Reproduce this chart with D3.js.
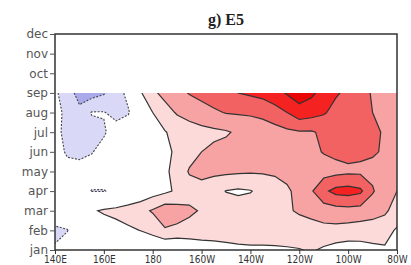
<!DOCTYPE html>
<html>
<head>
<meta charset="utf-8">
<script src="https://cdn.jsdelivr.net/npm/d3@7"></script>
<style>
  body { margin: 0; background: #fff; }
  svg { display: block; }
  .ylab text { font-family: 'DejaVu Sans', sans-serif; font-size: 12px; fill: #555; }
  .xlab text { font-family: 'Liberation Sans Narrow', 'DejaVu Sans Condensed', sans-serif; font-size: 10px; fill: #333; }
</style>
</head>
<body>
<div id="root"></div>
<script>
const monthNames = ['jan', 'feb', 'mar', 'apr', 'may', 'jun', 'jul', 'aug', 'sep', 'oct', 'nov', 'dec'];
const lonTicks = [140, 160, 180, 200, 220, 240, 260, 280];
const lonLabels = ['140E', '160E', '180', '160W', '140W', '120W', '100W', '80W'];

// grid longitudes (degrees east), 140E .. 80W every 5 deg
const gridLons = [140, 145, 150, 155, 160, 165, 170, 175, 180, 185, 190, 195, 200, 205, 210,
  215, 220, 225, 230, 235, 240, 245, 250, 255, 260, 265, 270, 275, 280];
// rows top to bottom: sep .. jan
const gridMonths = [9, 8, 7, 6, 5, 4, 3, 2, 1];

const sep = [-0.8, -1.6, -2.3, -2.4, -2.1, -1.5, -0.7, 0.9, 1.8, 2.3, 2.7, 3.05, 3.3, 3.5, 3.7,
  4.0, 4.15, 4.3, 4.6, 5.1, 5.5, 5.2, 4.6, 4.1, 3.8, 3.4, 2.9, 2.6, 2.7];
const aug = [-0.6, -1.3, -1.8, -0.95, -0.95, -1.3, -1.1, -0.1, 1.0, 1.6, 2.1, 2.4, 2.6, 2.85, 3.05,
  3.1, 3.15, 3.3, 3.6, 4.0, 4.6, 4.4, 4.1, 3.7, 3.4, 3.3, 3.0, 2.7, 2.5];
const jul = [-0.7, -1.3, -1.4, -1.3, -1.1, -0.6, -0.2, 0.2, 0.6, 0.95, 1.3, 1.5, 1.7, 1.8, 1.9,
  2.15, 2.3, 2.4, 2.6, 2.8, 2.9, 2.9, 3.2, 3.4, 3.5, 3.4, 3.2, 2.9, 2.6];
const jun = [-0.5, -1.15, -1.2, -1.05, -0.7, -0.3, 0.0, 0.3, 0.6, 0.8, 1.15, 1.6, 2.0, 2.2, 2.3,
  2.4, 2.4, 2.5, 2.55, 2.6, 2.7, 2.8, 3.05, 3.2, 3.3, 3.2, 3.1, 2.9, 2.5];
const may = [-0.3, -0.6, -0.7, -0.6, -0.4, -0.2, 0.0, 0.3, 0.6, 0.85, 1.3, 2.1, 2.3, 2.2, 2.2,
  2.15, 2.1, 2.1, 2.1, 2.1, 2.2, 2.4, 2.6, 2.7, 2.8, 2.8, 2.75, 2.5, 2.3];
const apr = [-0.1, -0.4, -0.75, -1.03, -1.05, -0.7, -0.2, 0.2, 0.55, 0.8, 1.15, 1.5, 1.6, 1.4, 0.97,
  0.85, 0.95, 1.3, 1.7, 1.95, 2.1, 2.9, 3.8, 4.3, 4.4, 4.2, 3.1, 2.4, 2.0];
const mar = [-0.3, -0.1, 0.3, 0.85, 1.15, 1.3, 1.5, 1.7, 2.1, 2.6, 2.4, 2.2, 1.9, 1.6, 1.5,
  1.5, 1.5, 1.6, 1.7, 1.9, 2.1, 2.3, 2.5, 2.6, 2.65, 2.6, 2.4, 2.2, 1.5];
const feb = [-1.2, -1.05, -0.2, 0.1, 0.3, 0.6, 0.82, 1.02, 1.3, 1.9, 1.8, 1.6, 1.5, 1.4, 1.4,
  1.35, 1.3, 1.3, 1.35, 1.4, 1.6, 1.6, 1.7, 1.7, 1.6, 1.5, 1.5, 1.3, 0.9];
const jan = [-0.9, -0.4, -0.2, 0.0, 0.1, 0.2, 0.3, 0.0, 0.1, -0.1, -0.2, 0.2, 0.5, 0.65, 0.75,
  0.85, 0.9, 0.9, 0.9, 0.92, 0.95, 1.1, 0.85, 0.6, 0.5, 0.6, 0.75, 0.9, 0.95];

const posLevels = [1, 2, 3, 4, 5];
const posColors = ['#fcdada', '#f7a3a3', '#f36262', '#f52222', '#e80606'];
const negLevels = [1, 2];
const negColors = ['#d9d9f7', '#a9a9ec'];

const width = 411;
const height = 265;
const margin = { top: 34, right: 14, bottom: 15, left: 55 };

const svg = d3.select('#root').append('svg')
  .attr('width', width)
  .attr('height', height);

const xScale = d3.scaleLinear()
  .domain([140, 280])
  .range([margin.left, width - margin.right]);

const yScale = d3.scaleLinear()
  .domain([1, 12])
  .range([height - margin.bottom, margin.top]);

svg.append('text')
  .attr('x', (xScale(140) + xScale(280)) / 2)
  .attr('y', 25)
  .attr('text-anchor', 'middle')
  .style('font-family', "'Liberation Serif', serif")
  .style('font-weight', 'bold')
  .style('font-size', '16px')
  .style('fill', '#222')
  .text('g) E5');

// contour grid
const rows = [sep, aug, jul, jun, may, apr, mar, feb, jan];
const nx = gridLons.length;
const ny = gridMonths.length;
const values = rows.flat();
const negValues = values.map(v => -v);

const dLon = gridLons[1] - gridLons[0];
const toScreen = d3.geoTransform({
  point(gx, gy) {
    const lon = gridLons[0] + (gx - 0.5) * dLon;
    const month = gridMonths[0] - (gy - 0.5);
    this.stream.point(xScale(lon), yScale(month));
  },
});
const path = d3.geoPath(toScreen);

const contours = d3.contours().size([nx, ny]);

svg.append('clipPath')
  .attr('id', 'clip')
  .append('rect')
  .attr('x', xScale(gridLons[0]))
  .attr('y', yScale(gridMonths[0]))
  .attr('width', xScale(gridLons[nx - 1]) - xScale(gridLons[0]))
  .attr('height', yScale(gridMonths[ny - 1]) - yScale(gridMonths[0]));

const plot = svg.append('g').attr('clip-path', 'url(#clip)');

const negC = contours.thresholds(negLevels)(negValues);
const posC = contours.thresholds(posLevels)(values);

plot.selectAll('path.neg')
  .data(negC)
  .enter().append('path')
  .attr('class', 'neg')
  .attr('d', path)
  .attr('fill', (d, i) => negColors[i]);

plot.selectAll('path.pos')
  .data(posC)
  .enter().append('path')
  .attr('class', 'pos')
  .attr('d', path)
  .attr('fill', (d, i) => posColors[i]);

plot.selectAll('path.negline')
  .data(negC)
  .enter().append('path')
  .attr('class', 'negline')
  .attr('d', path)
  .attr('fill', 'none')
  .attr('stroke', '#444')
  .attr('stroke-width', 1.1)
  .attr('stroke-dasharray', '2,1.5');

plot.selectAll('path.posline')
  .data(posC)
  .enter().append('path')
  .attr('class', 'posline')
  .attr('d', path)
  .attr('fill', 'none')
  .attr('stroke', '#333')
  .attr('stroke-width', 1.2);

// frame
svg.append('rect')
  .attr('x', xScale(140))
  .attr('y', yScale(12))
  .attr('width', xScale(280) - xScale(140))
  .attr('height', yScale(1) - yScale(12))
  .attr('fill', 'none')
  .attr('stroke', '#333')
  .attr('stroke-width', 1.5);

const yAxis = d3.axisLeft(yScale)
  .tickValues(d3.range(1, 13))
  .tickFormat(m => monthNames[m - 1])
  .tickSize(5)
  .tickPadding(2);

svg.append('g')
  .attr('class', 'ylab')
  .attr('transform', `translate(${xScale(140)},0)`)
  .call(yAxis)
  .call(g => g.select('.domain').remove())
  .call(g => g.selectAll('line').attr('stroke', '#555'));

const xAxis = d3.axisBottom(xScale)
  .tickValues(lonTicks)
  .tickFormat((d, i) => lonLabels[i])
  .tickSize(4)
  .tickPadding(2);

svg.append('g')
  .attr('class', 'xlab')
  .attr('transform', `translate(0,${yScale(1)})`)
  .call(xAxis)
  .call(g => g.select('.domain').remove())
  .call(g => g.selectAll('line').attr('stroke', '#333'))
  .call(g => g.selectAll('text').attr('y', 13).attr('dy', null));
</script>
</body>
</html>
